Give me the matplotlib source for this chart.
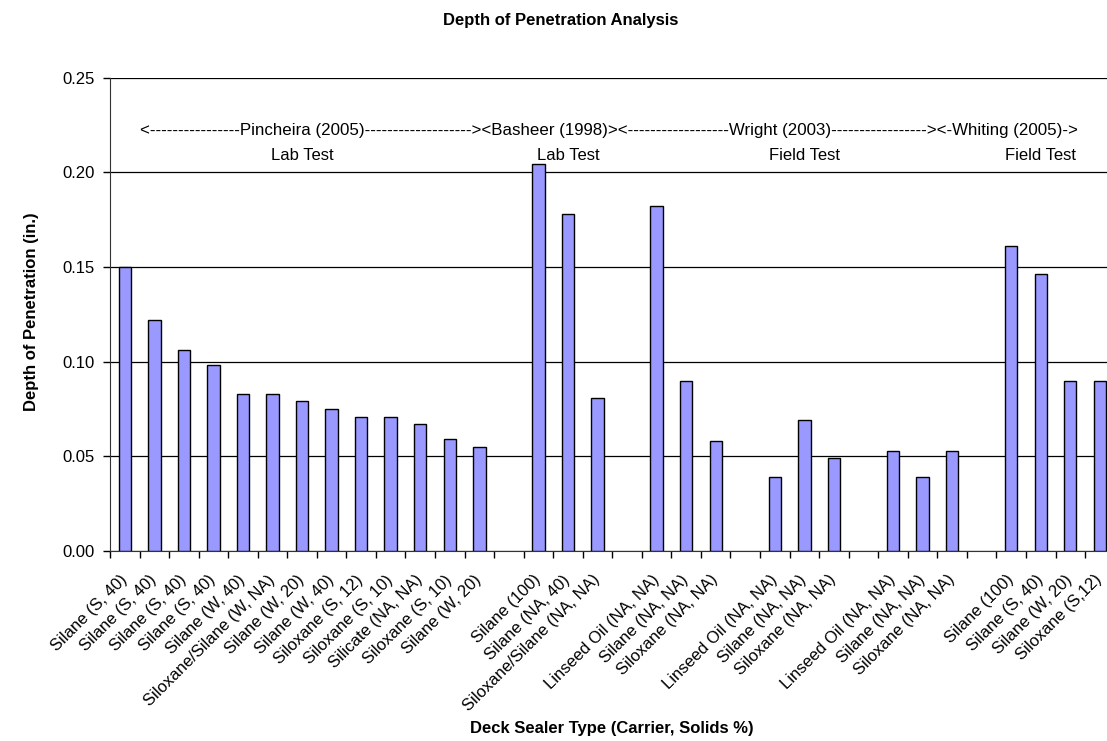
import numpy as np
import matplotlib
matplotlib.use("Agg")
import matplotlib.pyplot as plt

plt.rcParams['font.family'] = ['Liberation Sans', 'DejaVu Sans']

# categories (empty strings are the gaps between studies)
sealers = [
    "Silane (S, 40)", "Silane (S, 40)", "Silane (S, 40)", "Silane (S, 40)",
    "Silane (W, 40)", "Siloxane/Silane (W, NA)", "Silane (W, 20)", "Silane (W, 40)",
    "Siloxane (S, 12)", "Siloxane (S, 10)", "Silicate (NA, NA)", "Siloxane (S, 10)",
    "Silane (W, 20)",
    "",
    "Silane (100)", "Silane (NA, 40)", "Siloxane/Silane (NA, NA)",
    "",
    "Linseed Oil (NA, NA)", "Silane (NA, NA)", "Siloxane (NA, NA)",
    "",
    "Linseed Oil (NA, NA)", "Silane (NA, NA)", "Siloxane (NA, NA)",
    "",
    "Linseed Oil (NA, NA)", "Silane (NA, NA)", "Siloxane (NA, NA)",
    "",
    "Silane (100)", "Silane (S, 40)", "Silane (W, 20)", "Siloxane (S,12)",
]

depth = [
    0.150, 0.122, 0.106, 0.098, 0.083, 0.083, 0.079, 0.075, 0.071, 0.071, 0.067, 0.059, 0.055,
    np.nan,
    0.2045, 0.178, 0.081,
    np.nan,
    0.182, 0.090, 0.058,
    np.nan,
    0.039, 0.069, 0.049,
    np.nan,
    0.053, 0.039, 0.053,
    np.nan,
    0.161, 0.146, 0.090, 0.090,
]

studies = "<----------------Pincheira (2005)-------------------><Basheer (1998)><------------------Wright (2003)-----------------><-Whiting (2005)->"
test_types = ["Lab Test", "Lab Test", "Field Test", "Field Test"]
test_pos = [6, 15, 23, 31]

fig = plt.figure(figsize=(11.07, 7.41), dpi=100)
ax = fig.add_axes([110/1107, 190/741, 1004.6/1107, 473.5/741])

x = np.arange(len(sealers))
ax.bar(x, depth, width=0.42, color="#9999FF", edgecolor="black", linewidth=1, zorder=3)

ax.set_xlim(-0.5, len(sealers) - 0.5)
ax.set_ylim(0, 0.25)
ax.set_yticks(np.arange(0, 0.26, 0.05))
ax.set_yticklabels(["%.2f" % v for v in np.arange(0, 0.26, 0.05)], fontsize=12)
ax.yaxis.grid(True, color="black", linewidth=0.9, zorder=0)
ax.set_axisbelow(True)

ax.set_xticks(x)
ax.set_xticklabels(sealers, rotation=45, ha="right", va="center",
                   rotation_mode="anchor", fontsize=12)
ax.set_xticks(np.arange(-0.5, len(sealers), 1), minor=True)
ax.tick_params(axis="x", which="major", length=0, pad=19)
ax.tick_params(axis="x", which="minor", length=5, width=1, direction="out")
ax.tick_params(axis="y", length=5, width=1, direction="out", pad=6)

for s in ["top", "right"]:
    ax.spines[s].set_visible(False)
ax.spines["left"].set_color("#333333")
ax.spines["bottom"].set_color("#333333")

ax.text(0.515, 0.2196, studies, fontsize=12.2, ha="left", va="baseline")
for pos, t in zip(test_pos, test_types):
    ax.text(pos, 0.2064, t, fontsize=12, ha="center", va="baseline")

fig.text(561/1107, 1 - 20/741, "Depth of Penetration Analysis",
         fontsize=12, fontweight="bold", ha="center", va="center")
fig.text(32/1107, 1 - 312/741, "Depth of Penetration (in.)",
         fontsize=12, fontweight="bold", rotation=90, ha="center", va="center")
fig.text(612/1107, 12/741, "Deck Sealer Type (Carrier, Solids %)",
         fontsize=12, fontweight="bold", ha="center", va="center")

fig.savefig("out.png", dpi=100)
